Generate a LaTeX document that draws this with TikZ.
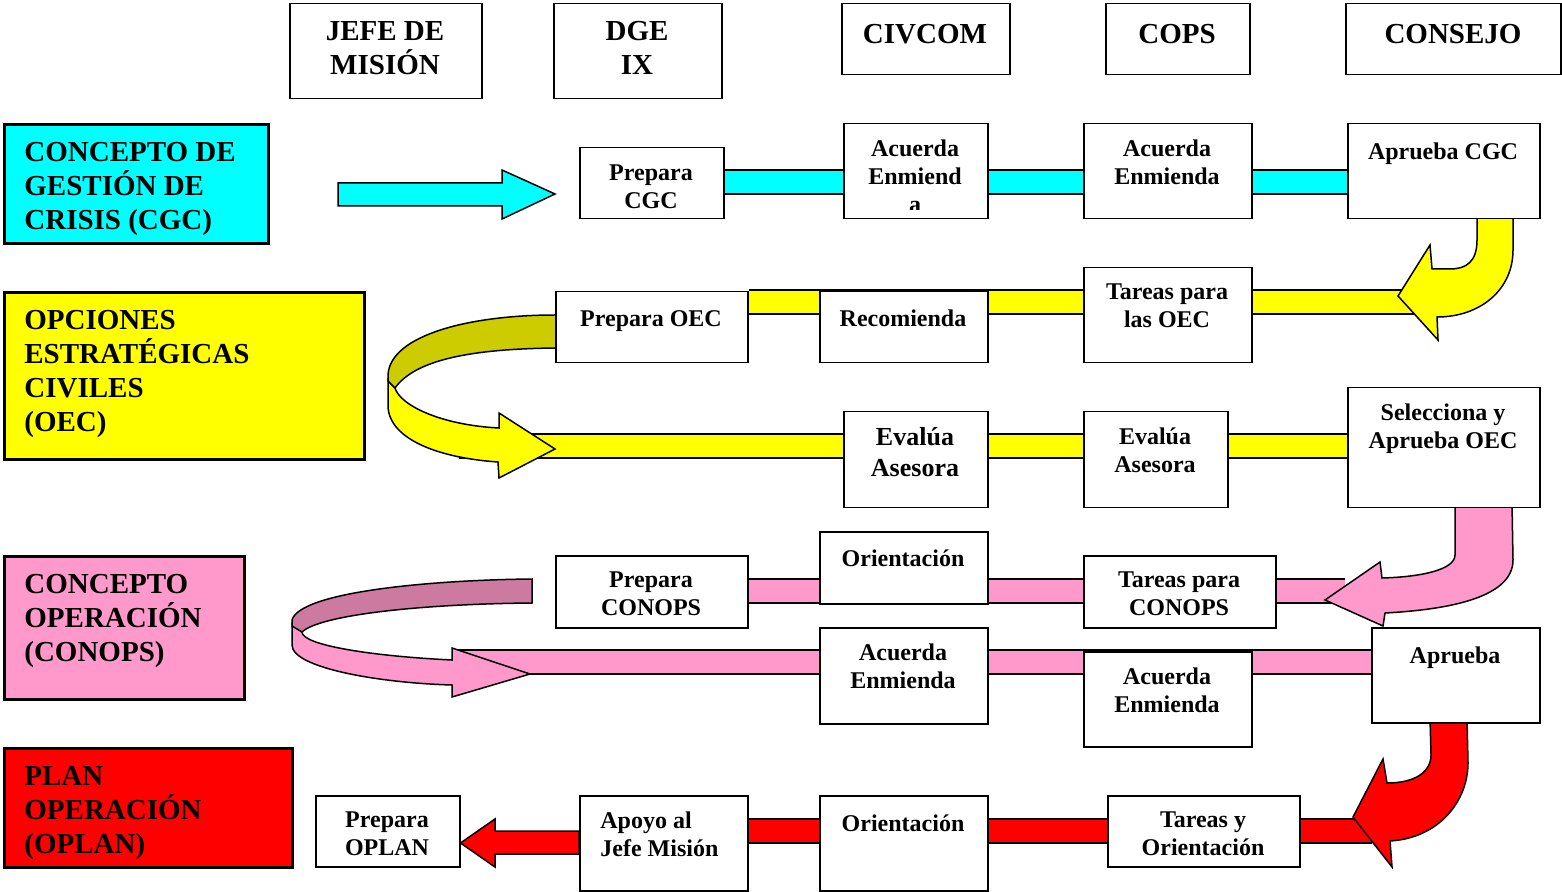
\documentclass[tikz,border=0pt]{standalone}
\usepackage{fontspec}
\setmainfont{Liberation Serif}
\newcommand\fbig{\fontsize{14.5}{17}\selectfont\bfseries}
\newcommand\ftx{\fontsize{12}{14}\selectfont\bfseries}
\newcommand\fev{\fontsize{13}{15.5}\selectfont\bfseries}
\definecolor{cy}{RGB}{0,255,255}
\definecolor{ye}{RGB}{255,255,0}
\definecolor{pk}{RGB}{255,153,204}
\definecolor{rd}{RGB}{255,0,0}
\definecolor{ol}{RGB}{204,204,0}
\definecolor{dp}{RGB}{204,122,160}
\pgfdeclarelayer{bg}
\pgfsetlayers{bg,main}
\tikzset{
 box/.style={draw, line width=0.75pt, fill=white, inner sep=0pt, anchor=north west},
 lab/.style={draw, line width=1.5pt, inner sep=0pt, anchor=north west},
 txt/.style={align=center, inner sep=0pt, anchor=north, font=\ftx, execute at begin node=\strut, execute at end node=\strut},
 big/.style={txt, font=\fbig},
 barline/.style={line width=0.75pt, double distance=11.25pt},
 arr/.style={draw, line width=0.75pt, line join=miter},
}
\begin{document}
\begin{tikzpicture}[x=0.5pt,y=-0.5pt]
\useasboundingbox (0,0) rectangle (1562,892);
% header boxes
\node[box, minimum width=96pt, minimum height=47.5pt] (jefe) at (289,3) {};
\node[box, minimum width=84pt, minimum height=47.5pt] (dge) at (553,3) {};
\node[box, minimum width=84pt, minimum height=35.5pt] (civcom) at (841,3) {};
\node[box, minimum width=72pt, minimum height=35.5pt] (cops) at (1105,3) {};
\node[box, minimum width=107.5pt, minimum height=35.5pt] (consejo) at (1345,3) {};
\node[big] (tjefe) at (385,21) {JEFE DE\\MISIÓN};
\node[big] (tdge) at (637,21) {DGE\\IX};
\node[big] (tcivcom) at (925,19) {CIVCOM};
\node[big] (tcops) at (1177,19) {COPS};
\node[big] (tconsejo) at (1453,19) {CONSEJO};
% left labels
\node[lab, fill=cy, minimum width=132pt, minimum height=59.5pt] (cgc) at (3,123) {};
\node[lab, fill=ye, minimum width=180pt, minimum height=83.5pt] (oec) at (3,291) {};
\node[lab, fill=pk, minimum width=120pt, minimum height=71.5pt] (conops) at (3,555) {};
\node[lab, fill=rd, minimum width=144pt, minimum height=59.5pt] (oplan) at (3,747) {};
\node[big, align=left, anchor=north west] (tcgc) at (24,141.5) {CONCEPTO DE\\GESTIÓN DE\\CRISIS (CGC)};
\node[big, align=left, anchor=north west] (toec) at (24,309.5) {OPCIONES\\ESTRATÉGICAS\\CIVILES\\(OEC)};
\node[big, align=left, anchor=north west] (tconops) at (24,573.5) {CONCEPTO\\OPERACIÓN\\(CONOPS)};
\node[big, align=left, anchor=north west] (toplan) at (24,765.5) {PLAN\\OPERACIÓN\\(OPLAN)};
% row 1
\node[box, minimum width=72pt, minimum height=35.5pt] (prepCGC) at (579,147) {};
\node[box, minimum width=72pt, minimum height=47.5pt] (acu1) at (843,123) {};
\node[box, minimum width=84pt, minimum height=47.5pt] (acu2) at (1083,123) {};
\node[box, minimum width=96pt, minimum height=47.5pt] (aprCGC) at (1347,123) {};
\node[txt] (tprepCGC) at (651,164) {Prepara\\CGC};
\begin{scope}
\clip (843,123) rectangle (987,209.5);
\node[txt] (tacu1) at (915,139) {Acuerda\\Enmiend\\a};
\end{scope}
\node[txt] (tacu2) at (1167,139) {Acuerda\\Enmienda};
\node[txt] (taprCGC) at (1443,140) {Aprueba CGC};
% row 2
\node[box, minimum width=96pt, minimum height=35.5pt] (prepOEC) at (555,291) {};
\node[box, minimum width=84pt, minimum height=35.5pt] (recom) at (819,291) {};
\node[box, minimum width=84pt, minimum height=47.5pt] (tareasOEC) at (1083,267) {};
\node[txt] (tprepOEC) at (651,307) {Prepara OEC};
\node[txt] (trecom) at (903,307) {Recomienda};
\node[txt] (ttareasOEC) at (1167,283) {Tareas para\\las OEC};
% row 2b
\node[box, minimum width=72pt, minimum height=48pt] (eval1) at (843,411) {};
\node[box, minimum width=72pt, minimum height=48pt] (eval2) at (1083,411) {};
\node[box, minimum width=96pt, minimum height=60pt] (selec) at (1347,387) {};
\node[txt, font=\fev] (teval1) at (915,427) {Evalúa\\Asesora};
\node[txt] (teval2) at (1155,427) {Evalúa\\Asesora};
\node[txt] (tselec) at (1443,403) {Selecciona y\\Aprueba OEC};
% row 3
\node[box, minimum width=96pt, minimum height=36pt] (prepCON) at (555,555) {};
\node[box, minimum width=84pt, minimum height=36pt] (orient1) at (819,531) {};
\node[box, minimum width=96pt, minimum height=36pt] (tareasCON) at (1083,555) {};
\node[txt] (tprepCON) at (651,571) {Prepara\\CONOPS};
\node[txt] (torient1) at (903,547) {Orientación};
\node[txt] (ttareasCON) at (1179,571) {Tareas para\\CONOPS};
% row 3b
\node[box, minimum width=84pt, minimum height=48pt] (acu3) at (819,627) {};
\node[box, minimum width=84pt, minimum height=47.5pt] (acu4) at (1083,651) {};
\node[box, minimum width=84pt, minimum height=47.5pt] (aprueba) at (1371,627) {};
\node[txt] (tacu3) at (903,643) {Acuerda\\Enmienda};
\node[txt] (tacu4) at (1167,667) {Acuerda\\Enmienda};
\node[txt] (taprueba) at (1455,643) {Aprueba};
% row 4
\node[box, minimum width=72pt, minimum height=35.5pt] (prepOPLAN) at (315,795) {};
\node[box, minimum width=84pt, minimum height=47.5pt] (apoyo) at (579,795) {};
\node[box, minimum width=84pt, minimum height=47.5pt] (orient2) at (819,795) {};
\node[box, minimum width=96pt, minimum height=35.5pt] (tareasY) at (1107,795) {};
\node[txt] (tprepOPLAN) at (387,811) {Prepara\\OPLAN};
\node[txt, align=left, anchor=north west] (tapoyo) at (600,811) {Apoyo al\\Jefe Misión};
\node[txt] (torient2) at (903,811) {Orientación};
\node[txt] (ttareasY) at (1203,811) {Tareas y\\Orientación};
% coordinates
\coordinate (y1) at (0,182);
\coordinate (e2) at (1420,302);
\coordinate (s2b) at (459,446);
\coordinate (e3) at (1345,591);
\coordinate (s3b) at (453,662);
\coordinate (e5) at (1372,831);
\begin{pgfonlayer}{bg}
% bars
\draw[barline, double=cy] (prepCGC.east |- y1) -- (aprCGC.west |- y1);
\draw[barline, double=ye] (prepOEC.east |- e2) -- (e2);
\draw[barline, double=ye] (s2b) -- (selec.west |- s2b);
\draw[barline, double=pk] (prepCON.east |- e3) -- (e3);
\draw[barline, double=pk] (s3b) -- (aprueba.west |- s3b);
\draw[barline, double=rd] (apoyo.east |- e5) -- (e5);
% straight arrows
\path[arr, fill=cy] (338,183) -- (502,183) -- (502,170) -- (555,194) -- (502,219) -- (502,206) -- (338,206) -- cycle;
\path[arr, fill=rd] (apoyo.west |- 0,831) -- (495,831) -- (495,819) -- (prepOPLAN.east |- 0,843) -- (495,867) -- (495,854) -- (apoyo.west |- 0,854) -- cycle;
% curved arrows
\path[arr, fill=ye] (1477,215) -- (1477,240) .. controls (1477,262) and (1466,269) .. (1450,269) -- (1432,269) -- (1430,245) -- (1398,296) -- (1438,340) -- (1437,317) .. controls (1480,317) and (1513,290) .. (1513,250) -- (1513,215) -- cycle;
\path[arr, fill=pk] (1455,504) -- (1455,555) .. controls (1455,570) and (1420,577) .. (1382,578) -- (1380,562) -- (1325,600) -- (1383,626) -- (1385,613) .. controls (1440,610) and (1513,600) .. (1513,560) -- (1512,504) -- cycle;
\path[arr, fill=rd] (1430,719) -- (1431,755) .. controls (1431,772) and (1415,783) .. (1387,783) -- (1383,759) -- (1353,817) -- (1392,867) -- (1390,841) .. controls (1440,838) and (1468,800) .. (1468,763) -- (1467,719) -- cycle;
% yellow U-turn
\path[arr, fill=ye] (388,380) -- (388,407) .. controls (390,440) and (440,458) .. (498,462) -- (499,478) -- (555,449) -- (499,413) -- (499,428) .. controls (440,425) and (400,405) .. (395,388) -- cycle;
\path[arr, fill=ol] (558,315) -- (555,315) .. controls (470,315) and (390,335) .. (388,375) -- (388,381) -- (395,388) .. controls (415,360) and (470,349) .. (555,348) -- (558,348) -- cycle;
% pink U-turn
\path[arr, fill=pk] (292,624) -- (292,645) .. controls (292,668) and (380,683) .. (452,685) -- (452,697) -- (530,674) -- (452,648) -- (452,660) .. controls (370,656) and (302,645) .. (302,632) -- cycle;
\path[arr, fill=dp] (532,579) .. controls (430,580) and (300,592) .. (292,620) -- (292,626) -- (302,632) .. controls (320,615) and (420,604) .. (532,603) -- cycle;
\end{pgfonlayer}
\end{tikzpicture}
\end{document}
